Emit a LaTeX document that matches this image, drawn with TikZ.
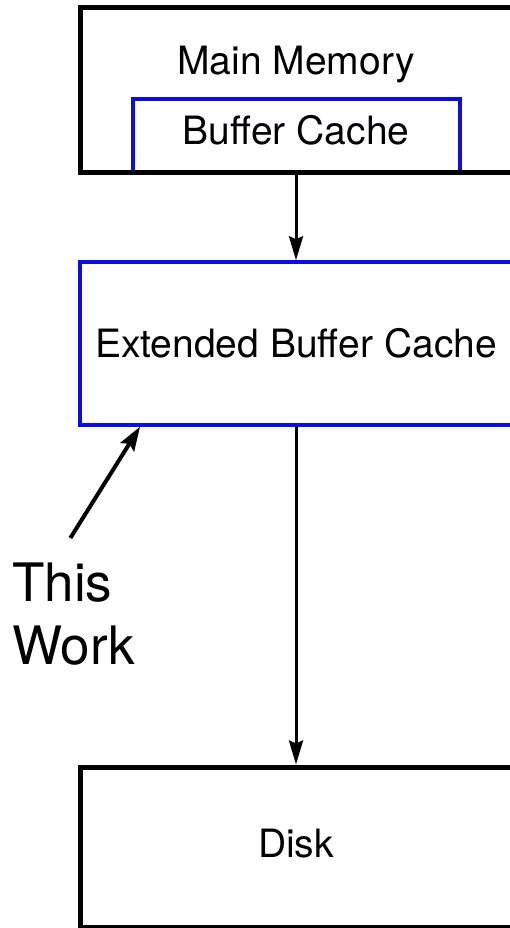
\documentclass[tikz,border=0pt]{standalone}
\usepackage{fontspec}
\setmainfont{TeX Gyre Heros}
\usetikzlibrary{arrows.meta,positioning}
\definecolor{cacheblue}{RGB}{12,12,228}

\begin{document}
\begin{tikzpicture}[
        x=1pt, y=-1pt,
        hw/.style={rectangle, draw, line width=5pt, minimum width=432pt, inner sep=0pt},
        cache/.style={rectangle, draw=cacheblue, line width=3.5pt, inner sep=0pt},
        lbl/.style={font=\fontsize{39}{46}\selectfont, anchor=base},
        flow/.style={line width=3pt, -{Stealth[length=24pt, width=14pt, inset=3pt]}},
        pointer/.style={line width=4pt, -{Stealth[length=24pt, width=16pt, inset=4pt]}},
    ]
        \clip (0,0) rectangle (510,928);

        % Memory with the buffer cache sitting on its floor
        \node[cache, minimum width=327pt, minimum height=74pt] (BUFF) at (296.5, 136) {};
        \node[hw, minimum height=165pt] (MEM) at (296, 90.5) {};
        \node[lbl] at (296, 75) {Main Memory};
        \node[lbl] at (296, 145) {Buffer Cache};

        % Extended cache level
        \node[cache, minimum width=432pt, minimum height=163pt] (EXT) at (296, 343.5) {};
        \node[lbl] at (296, 357) {Extended Buffer Cache};

        % Disk
        \node[hw, minimum height=160pt] (DISK) at (296, 847) {};
        \node[lbl] at (296, 857) {Disk};

        % Data path
        \draw[flow] (MEM.south) -- (EXT.north);
        \draw[flow] (EXT.south) -- (DISK.north);

        % Pointer to the new level
        \node[font=\fontsize{53}{63}\selectfont, align=left, inner sep=0pt, anchor=north west] (NOTE) at (12, 563) {This\\Work};
        \coordinate (TIP) at ([xshift=61.75pt]EXT.south west);
        \draw[pointer] ([xshift=-3pt, yshift=25pt]NOTE.north) -- (TIP);
    \end{tikzpicture}
\end{document}
